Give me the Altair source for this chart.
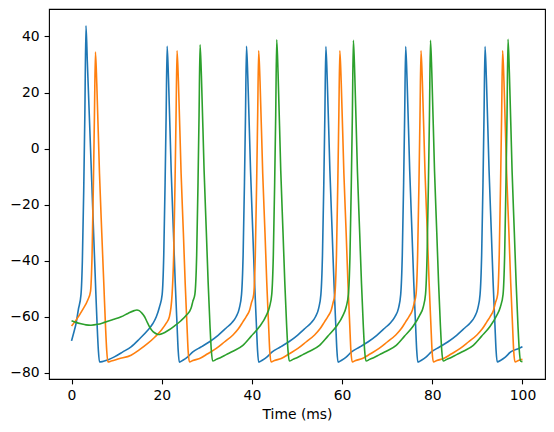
import altair as alt
import pandas as pd

# (time ms, membrane potential mV)
trace_1 = [
    (0.0, -68.6), (0.5, -65.6), (1.0, -62.4), (1.5, -57.5), (2.1, -52.0), (2.4, -40.0), (2.7, -15.0), (2.95, 12.0), (3.2, 43.8),
    (3.5, 31.0), (4.2, 0.5), (4.8, -26.0), (5.4, -52.0), (5.7, -64.0), (5.95, -72.0), (6.2, -76.1),
    (6.8, -76.0), (8.0, -75.4), (9.5, -74.3), (11.3, -72.6), (13.2, -70.7), (15.0, -68.0), (16.9, -64.8), (18.0, -62.5),
    (18.8, -60.0), (19.5, -56.5), (20.1, -52.0), (20.45, -38.0), (20.75, -12.0), (20.98, 12.0), (21.2, 36.5),
    (21.5, 25.0), (22.1, -8.0), (22.6, -30.0), (23.0, -48.0), (23.4, -63.0), (23.65, -72.0), (23.9, -76.2),
    (24.7, -75.5), (25.7, -74.4), (26.9, -72.5), (28.7, -70.8), (30.6, -68.9), (32.5, -66.6), (34.3, -64.0), (35.5, -62.2),
    (36.5, -60.0), (37.2, -57.0), (37.7, -52.0), (38.05, -38.0), (38.35, -12.0), (38.58, 12.0), (38.8, 36.5),
    (39.1, 25.0), (39.7, -8.0), (40.2, -30.0), (40.6, -48.0), (41.0, -63.0), (41.25, -72.0), (41.5, -76.2),
    (42.3, -75.5), (43.3, -74.4), (44.5, -72.5), (46.3, -70.8), (48.2, -68.9), (50.1, -66.6), (51.9, -64.0), (53.1, -62.2),
    (54.1, -60.0), (54.8, -57.0), (55.3, -52.0), (55.65, -38.0), (55.95, -12.0), (56.18, 12.0), (56.4, 36.4),
    (56.7, 25.0), (57.3, -8.0), (57.8, -30.0), (58.2, -48.0), (58.6, -63.0), (58.85, -72.0), (59.1, -76.2),
    (59.9, -75.5), (60.9, -74.4), (62.1, -72.5), (63.9, -70.8), (65.8, -68.9), (67.7, -66.6), (69.5, -64.0), (70.7, -62.2),
    (71.7, -60.0), (72.5, -57.0), (73.0, -52.0), (73.35, -38.0), (73.65, -12.0), (73.88, 12.0), (74.1, 36.4),
    (74.4, 25.0), (75.0, -8.0), (75.5, -30.0), (75.9, -48.0), (76.3, -63.0), (76.55, -72.0), (76.8, -76.2),
    (77.6, -75.5), (78.6, -74.4), (79.8, -72.5), (81.6, -70.8), (83.5, -68.9), (85.4, -66.6), (87.2, -64.0), (88.4, -62.2),
    (89.4, -60.0), (90.1, -57.0), (90.6, -52.0), (90.95, -38.0), (91.25, -12.0), (91.48, 12.0), (91.7, 36.4),
    (92.0, 25.0), (92.6, -8.0), (93.1, -30.0), (93.5, -48.0), (93.9, -63.0), (94.15, -72.0), (94.4, -76.1),
    (95.2, -75.5), (96.2, -74.4), (97.4, -72.5), (99.2, -71.3), (100.0, -70.7),
]

trace_2 = [
    (0.0, -63.3), (1.0, -61.2), (2.4, -57.6), (3.6, -54.0), (4.2, -51.0), (4.55, -38.0), (4.85, -12.0), (5.08, 12.0), (5.3, 34.4),
    (5.6, 23.0), (6.2, -9.0), (6.7, -30.0), (7.2, -50.0), (7.55, -64.0), (7.8, -72.0), (8.05, -76.1),
    (8.8, -75.8), (10.5, -75.0), (13.2, -73.7), (15.0, -71.8), (16.9, -69.5), (18.5, -67.2), (19.9, -64.8), (21.0, -62.3),
    (21.7, -60.0), (22.3, -52.0), (22.65, -38.0), (22.95, -12.0), (23.18, 12.0), (23.4, 34.9),
    (23.7, 24.0), (24.3, -9.0), (24.8, -30.0), (25.2, -48.0), (25.6, -63.0), (25.85, -72.0), (26.15, -76.1),
    (26.9, -75.6), (28.4, -74.9), (30.2, -73.2), (32.1, -71.3), (33.9, -69.0), (35.8, -66.5), (37.0, -64.3), (38.0, -61.8),
    (38.8, -59.8), (39.5, -57.6), (39.9, -55.0), (40.4, -52.0), (40.75, -38.0), (41.05, -12.0), (41.28, 12.0), (41.5, 34.9),
    (41.8, 24.0), (42.4, -9.0), (42.9, -30.0), (43.3, -48.0), (43.7, -63.0), (43.95, -72.0), (44.25, -76.1),
    (45.0, -75.6), (46.5, -74.9), (48.3, -73.2), (50.2, -71.3), (52.0, -69.0), (53.9, -66.5), (55.1, -64.3), (56.1, -61.8),
    (56.9, -59.8), (57.6, -57.6), (58.0, -55.0), (58.4, -52.0), (58.75, -38.0), (59.05, -12.0), (59.28, 12.0), (59.5, 34.9),
    (59.8, 24.0), (60.4, -9.0), (60.9, -30.0), (61.3, -48.0), (61.7, -63.0), (61.95, -72.0), (62.25, -76.1),
    (63.0, -75.6), (64.5, -74.9), (66.3, -73.2), (68.2, -71.3), (70.0, -69.0), (71.9, -66.5), (73.1, -64.3), (74.1, -61.8),
    (74.9, -59.8), (75.6, -57.6), (76.0, -55.0), (76.4, -52.0), (76.75, -38.0), (77.05, -12.0), (77.28, 12.0), (77.5, 34.9),
    (77.8, 24.0), (78.4, -9.0), (78.9, -30.0), (79.3, -48.0), (79.7, -63.0), (79.95, -72.0), (80.25, -76.1),
    (81.0, -75.6), (82.5, -74.9), (84.3, -73.2), (86.2, -71.3), (88.0, -69.0), (89.9, -66.5), (91.1, -64.3), (92.1, -61.8),
    (92.9, -59.8), (93.6, -57.6), (94.0, -55.0), (94.5, -52.0), (94.85, -38.0), (95.15, -12.0), (95.38, 12.0), (95.6, 34.9),
    (95.9, 24.0), (96.5, -9.0), (97.0, -30.0), (97.4, -48.0), (97.8, -63.0), (98.05, -72.0), (98.35, -76.1),
    (99.1, -75.6), (100.0, -75.2),
]

trace_3 = [
    (0.0, -61.4), (1.0, -62.0), (2.1, -62.5), (3.2, -62.9), (4.3, -63.0), (5.8, -62.7), (7.3, -62.0), (9.2, -61.0),
    (11.0, -60.0), (12.5, -58.8), (13.9, -57.8), (14.5, -57.6), (15.0, -57.8), (15.6, -58.7), (16.2, -60.0), (16.8, -62.0),
    (17.3, -63.6), (17.8, -64.8), (18.4, -65.7), (19.0, -66.2), (19.5, -66.3), (20.3, -65.9), (21.3, -65.0), (22.8, -63.3),
    (24.2, -61.5), (25.5, -59.4), (26.5, -57.0), (26.9, -54.5), (27.35, -52.0), (27.75, -38.0), (28.05, -12.0), (28.28, 12.0), (28.5, 37.0),
    (28.8, 26.0), (29.4, -8.0), (29.9, -30.0), (30.3, -48.0), (30.7, -63.0), (31.0, -72.0), (31.3, -75.8),
    (32.1, -75.2), (33.1, -74.5), (34.3, -73.5), (35.8, -72.3), (38.0, -70.2), (39.8, -67.0), (41.7, -63.5), (43.2, -59.5),
    (43.9, -56.5), (44.4, -52.0), (44.75, -38.0), (45.05, -12.0), (45.28, 12.0), (45.5, 38.8),
    (45.8, 27.0), (46.4, -8.0), (46.9, -30.0), (47.3, -48.0), (47.7, -63.0), (48.0, -72.0), (48.3, -75.8),
    (49.1, -75.2), (50.1, -74.5), (51.3, -73.5), (52.8, -72.3), (55.0, -70.2), (56.8, -67.0), (58.7, -63.5), (60.2, -59.5),
    (60.9, -56.5), (61.4, -52.0), (61.75, -38.0), (62.05, -12.0), (62.28, 12.0), (62.5, 38.6),
    (62.8, 27.0), (63.4, -8.0), (63.9, -30.0), (64.3, -48.0), (64.7, -63.0), (65.0, -72.0), (65.3, -75.8),
    (66.1, -75.2), (67.1, -74.5), (68.3, -73.5), (69.8, -72.3), (72.0, -70.2), (73.8, -67.0), (75.7, -63.5), (77.2, -59.5),
    (78.0, -56.5), (78.5, -52.0), (78.85, -38.0), (79.15, -12.0), (79.38, 12.0), (79.6, 38.6),
    (79.9, 27.0), (80.5, -8.0), (81.0, -30.0), (81.4, -48.0), (81.8, -63.0), (82.1, -72.0), (82.4, -75.8),
    (83.2, -75.2), (84.2, -74.5), (85.4, -73.5), (86.9, -72.3), (89.1, -70.2), (90.9, -67.0), (92.8, -63.5), (94.3, -59.5),
    (95.1, -56.5), (95.7, -52.0), (96.05, -38.0), (96.35, -12.0), (96.58, 12.0), (96.8, 39.0),
    (97.1, 27.0), (97.7, -8.0), (98.2, -30.0), (98.6, -48.0), (99.0, -63.0), (99.3, -72.0), (99.6, -75.8), (100.0, -76.0),
]

colors = ["#1f77b4", "#ff7f0e", "#2ca02c"]
x_ticks = [0, 20, 40, 60, 80, 100]
y_ticks = [-80, -60, -40, -20, 0, 20, 40]

x_enc = alt.X(
    "t:Q",
    scale=alt.Scale(domain=[-5, 105], nice=False, zero=False),
    axis=alt.Axis(values=x_ticks, title="Time (ms)", format="d"),
)
y_enc = alt.Y(
    "v:Q",
    scale=alt.Scale(domain=[-82.2, 49.8], nice=False, zero=False),
    axis=alt.Axis(values=y_ticks, title=None, format="d",
                  labelExpr="replace(datum.label, '-', '\u2212')"),
)

layers = []
for pts, col in zip([trace_1, trace_2, trace_3], colors):
    df = pd.DataFrame(pts, columns=["t", "v"])
    layers.append(
        alt.Chart(df)
        .mark_line(color=col, strokeWidth=1.6, interpolate="monotone")
        .encode(x=x_enc, y=y_enc)
    )

chart = (
    alt.layer(*layers)
    .properties(
        width=496,
        height=370,
        padding={"left": 41, "top": 1, "right": 1, "bottom": 45},
        autosize=alt.AutoSizeParams(type="none"),
    )
    .configure_view(stroke="#000000", strokeWidth=1.1)
    .configure_axis(
        domain=False,
        grid=False,
        ticks=True,
        tickColor="#000000",
        tickWidth=1.1,
        tickSize=4.9,
        labelFont="DejaVu Sans",
        labelFontSize=13.9,
        labelColor="#000000",
        labelPadding=4.9,
        titleFont="DejaVu Sans",
        titleFontSize=13.9,
        titleFontWeight="normal",
        titleColor="#000000",
        titlePadding=5,
    )
)

chart.save("out.html", embed_options={"renderer": "svg", "actions": False})
